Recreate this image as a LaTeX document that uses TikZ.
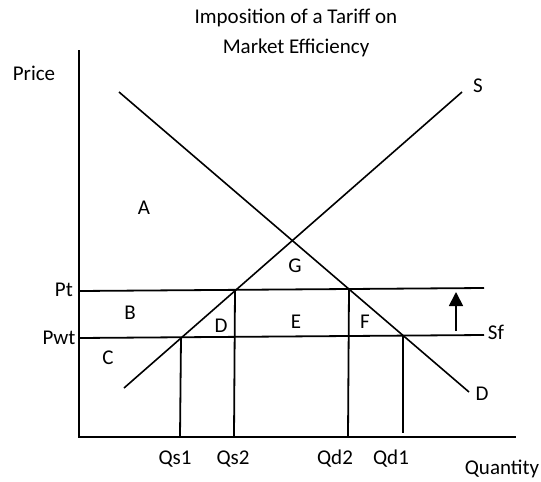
\documentclass[tikz,border=0pt]{standalone}
\usepackage{fontspec}
\setmainfont{Carlito}
\usetikzlibrary{arrows.meta}
\begin{document}
\begin{tikzpicture}[x=1pt,y=-1pt,
  lbl/.style={inner sep=0pt,font=\fontsize{21}{25}\selectfont},
  curve/.style={line width=1.6pt,black},
  axis/.style={line width=1.9pt,black},
  guide/.style={line width=1.8pt,black}]
\useasboundingbox[fill=white] (0,0) rectangle (541,482);
% axes
\coordinate (ytop) at (79,50);
\coordinate (orig) at (79,437);
\coordinate (xend) at (516,437);
\draw[axis] (ytop) -- (orig) -- (xend);
% price lines
\coordinate (ptL) at (79,291);
\coordinate (ptR) at (484,288);
\coordinate (pwL) at (79,338);
\coordinate (pwR) at (484,335);
\draw[guide] (ptL) -- (ptR);
\draw[guide] (pwL) -- (pwR);
% supply & demand
\coordinate (sA) at (124,388);
\coordinate (sB) at (462,92);
\coordinate (dA) at (119,92);
\coordinate (dB) at (469,392);
\draw[curve] (sA) -- (sB);
\draw[curve] (dA) -- (dB);
% quantity drop lines
\coordinate (qs1T) at (181,338); \coordinate (qs1B) at (180,437);
\coordinate (qs2T) at (235,290); \coordinate (qs2B) at (234,437);
\coordinate (qd2T) at (349,289); \coordinate (qd2B) at (348,437);
\coordinate (qd1T) at (403,336); \coordinate (qd1B) at (403,433);
\draw[guide] (qs1T) -- (qs1B);
\draw[guide] (qs2T) -- (qs2B);
\draw[guide] (qd2T) -- (qd2B);
\draw[guide] (qd1T) -- (qd1B);
% shift arrow
\coordinate (arB) at (456,331);
\coordinate (arT) at (456,292);
\draw[line width=1.8pt,-{Triangle[length=14pt,width=14pt]}] (arB) -- (arT);
% labels
\node[lbl,align=center] (title) at (296,33) {Imposition of a Tariff on\\[5pt]Market Efficiency};
\node[lbl] (price) at (34,73) {Price};
\node[lbl] (quantity) at (502,469) {Quantity};
\node[lbl] (Slab) at (478,86) {S};
\node[lbl] (Dlab) at (482,394) {D};
\node[lbl] (Sflab) at (496,332) {Sf};
\node[lbl] (ptlab) at (64,290) {Pt};
\node[lbl] (pwtlab) at (59,338) {Pwt};
\node[lbl] (qs1) at (175,459) {Qs1};
\node[lbl] (qs2) at (233,459) {Qs2};
\node[lbl] (qd2) at (335,459) {Qd2};
\node[lbl] (qd1) at (391,459) {Qd1};
\node[lbl] (areaA) at (144,208) {A};
\node[lbl] (areaB) at (130,313) {B};
\node[lbl] (areaC) at (108,358) {C};
\node[lbl] (areaD) at (221,326) {D};
\node[lbl] (areaE) at (296,322) {E};
\node[lbl] (areaF) at (365,322) {F};
\node[lbl] (areaG) at (295,266) {G};
\end{tikzpicture}
\end{document}
